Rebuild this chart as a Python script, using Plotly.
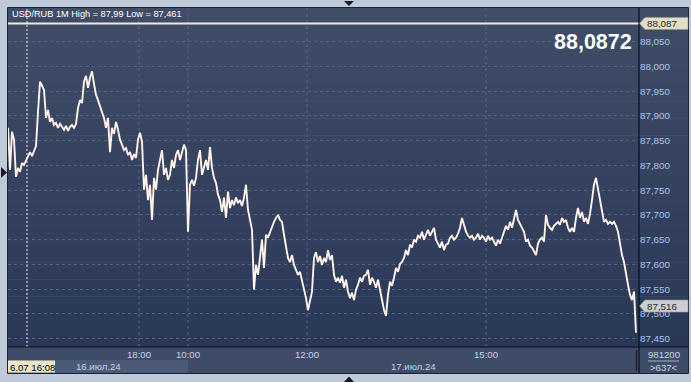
import plotly.graph_objects as go

# ---------------- data ----------------
# minute index (0 = 16.07 ~15:49), sampled every 2 minutes
minute_idx = list(range(0, 630, 2))
price = [
    87.876, 87.791, 87.868, 87.852, 87.777, 87.795, 87.787, 87.805, 87.801, 87.811,
    87.817, 87.827, 87.819, 87.831, 87.839, 87.908, 87.969, 87.961, 87.953, 87.896,
    87.912, 87.888, 87.896, 87.882, 87.886, 87.876, 87.884, 87.878, 87.872, 87.880,
    87.870, 87.878, 87.882, 87.876, 87.884, 87.916, 87.932, 87.926, 87.969, 87.981,
    87.957, 87.977, 87.990, 87.965, 87.943, 87.932, 87.920, 87.908, 87.896, 87.876,
    87.896, 87.827, 87.876, 87.864, 87.888, 87.872, 87.852, 87.842, 87.831, 87.835,
    87.821, 87.827, 87.811, 87.823, 87.815, 87.852, 87.866, 87.848, 87.751, 87.781,
    87.730, 87.761, 87.690, 87.775, 87.751, 87.791, 87.811, 87.831, 87.781, 87.795,
    87.771, 87.781, 87.811, 87.795, 87.821, 87.831, 87.811, 87.827, 87.842, 87.831,
    87.666, 87.761, 87.771, 87.759, 87.775, 87.811, 87.831, 87.781, 87.795, 87.811,
    87.791, 87.837, 87.795, 87.775, 87.765, 87.741, 87.730, 87.706, 87.735, 87.694,
    87.747, 87.714, 87.730, 87.720, 87.735, 87.724, 87.730, 87.718, 87.735, 87.761,
    87.710, 87.690, 87.670, 87.549, 87.599, 87.579, 87.613, 87.650, 87.593, 87.660,
    87.654, 87.666, 87.674, 87.686, 87.694, 87.700, 87.690, 87.686, 87.660, 87.640,
    87.613, 87.605, 87.619, 87.599, 87.589, 87.579, 87.585, 87.569, 87.549, 87.532,
    87.508, 87.524, 87.545, 87.613, 87.625, 87.605, 87.617, 87.599, 87.613, 87.605,
    87.629, 87.609, 87.619, 87.579, 87.565, 87.573, 87.563, 87.577, 87.553, 87.569,
    87.545, 87.532, 87.543, 87.528, 87.549, 87.559, 87.573, 87.565, 87.577, 87.579,
    87.589, 87.559, 87.573, 87.565, 87.553, 87.569, 87.549, 87.528, 87.508, 87.496,
    87.539, 87.565, 87.557, 87.573, 87.593, 87.585, 87.601, 87.605, 87.613, 87.629,
    87.619, 87.640, 87.634, 87.650, 87.646, 87.658, 87.654, 87.666, 87.650, 87.660,
    87.670, 87.658, 87.666, 87.674, 87.650, 87.640, 87.634, 87.646, 87.629, 87.640,
    87.642, 87.654, 87.658, 87.650, 87.654, 87.662, 87.674, 87.694, 87.680, 87.666,
    87.658, 87.654, 87.658, 87.650, 87.654, 87.662, 87.650, 87.658, 87.654, 87.646,
    87.658, 87.650, 87.654, 87.646, 87.638, 87.650, 87.642, 87.654, 87.666, 87.678,
    87.670, 87.686, 87.674, 87.694, 87.710, 87.690, 87.680, 87.674, 87.666, 87.646,
    87.650, 87.638, 87.634, 87.625, 87.619, 87.642, 87.650, 87.654, 87.646, 87.700,
    87.680, 87.674, 87.670, 87.678, 87.682, 87.686, 87.680, 87.694, 87.686, 87.690,
    87.674, 87.666, 87.674, 87.666, 87.694, 87.714, 87.694, 87.706, 87.686, 87.694,
    87.682, 87.702, 87.730, 87.761, 87.775, 87.751, 87.730, 87.706, 87.686, 87.690,
    87.682, 87.686, 87.682, 87.686, 87.678, 87.666, 87.640, 87.619, 87.605, 87.579,
    87.559, 87.539, 87.528, 87.545, 87.462,
]

time_tick_idx = [131, 180, 299, 478]
time_tick_text = ["18:00", "10:00", "12:00", "15:00"]
date_labels = ["16.июл.24", "17.июл.24"]
date_span = [(0, 180), (180, 631)]
cursor_idx = 19
cursor_label = "6.07 16:08"

y_ticks = [87.45, 87.50, 87.55, 87.60, 87.65, 87.70, 87.75, 87.80, 87.85, 87.90, 87.95, 88.00, 88.05]
y_tick_text = ["87,450", "87,500", "87,550", "87,600", "87,650", "87,700", "87,750",
               "87,800", "87,850", "87,900", "87,950", "88,000", "88,050"]

title_text = "USD/RUB 1M High = 87,99 Low = 87,461"
big_price = "88,0872"
ask_level = 88.087
ask_text = "88,087"
last_level = 87.516
last_text = "87,516"
volume_text = "981200"
count_text = ">637<"

# ---------------- layout geometry (pixels) ----------------
W, H = 691, 382
L, R, T, B = 8, 639, 8, 347


def px(x):
    return (x - L) / (R - L)


def py(y):
    return (B - y) / (B - T)


def lerp(c1, c2, t):
    return "rgb(%d,%d,%d)" % tuple(round(a + (b - a) * t) for a, b in zip(c1, c2))


shapes = []
# gradient background of plot + right axis panel
top_c, bot_c = (64, 77, 103), (42, 56, 88)
nb = 40
for k in range(nb):
    y0 = T + (B - T) * k / nb
    y1 = T + (B - T) * (k + 1) / nb + 0.6
    shapes.append(dict(type="rect", xref="paper", yref="paper", x0=px(L), x1=px(688),
                       y0=py(y1), y1=py(y0), fillcolor=lerp(top_c, bot_c, k / (nb - 1)),
                       line=dict(width=0), layer="below"))
# x-axis panel
shapes.append(dict(type="rect", xref="paper", yref="paper", x0=px(L), x1=px(688),
                   y0=py(373), y1=py(B), fillcolor="#3e4c67", line=dict(width=0), layer="below"))
# date band for 16 Jul
shapes.append(dict(type="rect", xref="x", yref="paper", x0=date_span[0][0], x1=date_span[0][1],
                   y0=py(373), y1=py(360), fillcolor="#4b5a76", line=dict(width=0), layer="below"))
# cursor label box
shapes.append(dict(type="rect", xref="paper", yref="paper", x0=px(L), x1=px(55),
                   y0=py(372.5), y1=py(360.5), fillcolor="#ebe7c6", line=dict(width=0)))
# vertical gridlines at time ticks
for t in time_tick_idx:
    shapes.append(dict(type="line", xref="x", yref="paper", x0=t, x1=t, y0=0, y1=1,
                       line=dict(color="#56678a", width=1, dash="3px,3px"), layer="below"))
# cursor line
shapes.append(dict(type="line", xref="x", yref="paper", x0=cursor_idx, x1=cursor_idx, y0=0, y1=1,
                   line=dict(color="#f4f1e6", width=1, dash="2px,2px")))
# ask level line
shapes.append(dict(type="line", xref="paper", yref="y", x0=0, x1=1, y0=ask_level, y1=ask_level,
                   line=dict(color="#efe9d9", width=2)))
# borders
shapes.append(dict(type="line", xref="paper", yref="paper", x0=px(L), x1=px(688), y0=py(B), y1=py(B),
                   line=dict(color="#0c0f18", width=1.2)))
shapes.append(dict(type="line", xref="paper", yref="paper", x0=px(R), x1=px(R), y0=py(373), y1=py(T),
                   line=dict(color="#0c0f18", width=1.2)))
shapes.append(dict(type="rect", xref="paper", yref="paper", x0=px(7.5), x1=px(688.5),
                   y0=py(373.5), y1=py(7.5), line=dict(color="#1c2233", width=1)))
shapes.append(dict(type="line", xref="paper", yref="paper", x0=px(636.5), x1=px(636.5),
                   y0=py(371), y1=py(350), line=dict(color="#20232c", width=1.5)))
# separator line under volume
shapes.append(dict(type="line", xref="paper", yref="paper", x0=px(648), x1=px(679),
                   y0=py(361), y1=py(361), line=dict(color="#9fb0c8", width=1)))


# price tags on the right axis
def tag_path(level, half, color):
    h = half
    x1, xa = px(688), px(645)
    return dict(type="path", xref="paper", yref="y",
                path=f"M {px(639.5)},{level} L {xa},{level + h} L {x1},{level + h} L {x1},{level - h} L {xa},{level - h} Z",
                fillcolor=color, line=dict(color="#9a9a8a", width=0.6))


half = 6 / 495
shapes.append(tag_path(ask_level, half, "#e2dec3"))
shapes.append(tag_path(last_level, half, "#c9ced5"))


# triangles on outer frame
def tri(points, color="#151a26"):
    d = "M " + " L ".join(f"{px(x)},{py(y)}" for x, y in points) + " Z"
    return dict(type="path", xref="paper", yref="paper", path=d, fillcolor=color, line=dict(width=0))


shapes.append(tri([(1, 167), (7, 172.5), (1, 178)]))
shapes.append(tri([(344, 1), (354, 1), (349, 6)]))
shapes.append(tri([(344, 382), (354, 382), (349, 376.5)]))

annotations = [
    dict(text=title_text, xref="paper", yref="paper", x=px(10), y=py(14), xanchor="left",
         yanchor="middle", showarrow=False, font=dict(family="Liberation Sans", size=9.2, color="#ffffff")),
    dict(text="<b>" + big_price + "</b>", xref="paper", yref="paper", x=px(634), y=py(42),
         xanchor="right", yanchor="middle", showarrow=False,
         font=dict(family="Liberation Sans", size=21.5, color="#ffffff")),
    dict(text=ask_text, xref="paper", yref="y", x=px(645), y=ask_level, xanchor="left",
         yanchor="middle", showarrow=False, font=dict(family="Liberation Sans", size=9.8, color="#2a2a2a")),
    dict(text=last_text, xref="paper", yref="y", x=px(645), y=last_level, xanchor="left",
         yanchor="middle", showarrow=False, font=dict(family="Liberation Sans", size=9.8, color="#2a2a2a")),
    dict(text=cursor_label, xref="paper", yref="paper", x=px(8), y=py(367), xanchor="left",
         yanchor="middle", showarrow=False, font=dict(family="Liberation Sans", size=9.6, color="#000000")),
    dict(text=volume_text, xref="paper", yref="paper", x=px(663.5), y=py(355), xanchor="center",
         yanchor="middle", showarrow=False, font=dict(family="Liberation Sans", size=9.6, color="#c8d6ea")),
    dict(text=count_text, xref="paper", yref="paper", x=px(663.5), y=py(367), xanchor="center",
         yanchor="middle", showarrow=False, font=dict(family="Liberation Sans", size=9.6, color="#c8d6ea")),
]
for lab, (a, b) in zip(date_labels, date_span):
    annotations.append(dict(text=lab, xref="x", yref="paper", x=(a + b) / 2, y=py(366.5),
                            xanchor="center", yanchor="middle", showarrow=False,
                            font=dict(family="Liberation Sans", size=9.6, color="#c6d4ea")))

fig = go.Figure()
fig.add_trace(go.Scatter(x=minute_idx, y=price, mode="lines",
                         line=dict(color="#fff3ea", width=1.9), hoverinfo="skip"))

fig.update_layout(
    width=W, height=H,
    margin=dict(l=L, r=W - R, t=T, b=H - B),
    paper_bgcolor="#bfcad9",
    plot_bgcolor="rgba(0,0,0,0)",
    showlegend=False,
    shapes=shapes,
    annotations=annotations,
    xaxis=dict(range=[0, 631], showgrid=False, zeroline=False, showline=False,
               tickmode="array", tickvals=time_tick_idx, ticktext=time_tick_text,
               ticks="", ticklen=0, tickfont=dict(family="Liberation Sans", size=9.6, color="#c6d4ea"),
               fixedrange=True),
    yaxis=dict(range=[87.4332, 88.1181], side="right", showgrid=True, gridcolor="#54637f",
               griddash="3px,3px", gridwidth=1, zeroline=False, showline=False,
               tickmode="array", tickvals=y_ticks, ticktext=y_tick_text, ticks="", ticklen=0,
               tickfont=dict(family="Liberation Sans", size=9.8, color="#a9c6ee"), fixedrange=True),
)

fig.write_html("out.html")
